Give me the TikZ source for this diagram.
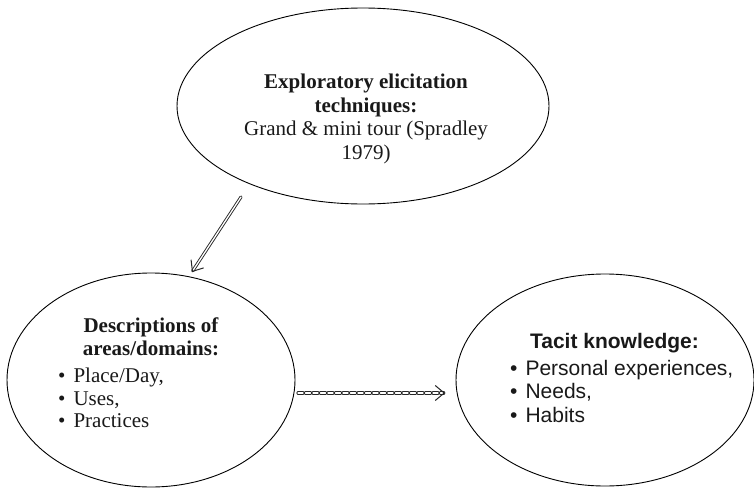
\documentclass[tikz,border=0pt]{standalone}
\usepackage{fontspec}
\setmainfont{Liberation Serif}
\setsansfont{Liberation Sans}
\usetikzlibrary{shapes.geometric}
\usetikzlibrary{arrows.meta}

\begin{document}
\begin{tikzpicture}[line cap=round,line join=round,x=1pt,y=-1pt,
  bubble/.style={draw,ellipse,inner sep=0pt,line width=0.9pt},
  txt/.style={inner sep=0pt,text=black!90,font=\fontsize{21}{23.5}\selectfont},
  link/.style={double,line width=0.9pt,double distance=1.3pt,draw=black!85,-{Straight Barb[length=9pt,width=15pt,line width=1pt]}}]
\useasboundingbox (0,0) rectangle (754,487);
% the three bubbles
\node[bubble,minimum width=372,minimum height=196] (tech) at (363,106) {};
\node[bubble,minimum width=288,minimum height=214] (descr) at (151,380) {};
\node[bubble,minimum width=298,minimum height=212] (tacit) at (605,380) {};
% texts
\node[txt,align=center] (techtxt) at (366,119) {\textbf{Exploratory elicitation}\\\textbf{techniques:}\\Grand \& mini tour (Spradley\\1979)};
\node[txt,align=center,font=\fontsize{21}{23}\selectfont] (descrhead) at (151,337) {\textbf{Descriptions of}\\\textbf{areas/domains:}};
\node[txt,align=left,anchor=west,font=\fontsize{21}{22.5}\selectfont] (descrlist) at (58,398) {\textbullet\hspace{8pt}Place/Day,\\\textbullet\hspace{8pt}Uses,\\\textbullet\hspace{8pt}Practices};
\node[txt,anchor=base,font=\sffamily\bfseries\fontsize{21}{23.5}\selectfont] (tacithead) at (614.5,348) {Tacit knowledge:};
\node[txt,align=left,anchor=west,font=\sffamily\fontsize{21}{23.5}\selectfont] (tacitlist) at (510,391) {\textbullet\hspace{8pt}Personal experiences,\\\textbullet\hspace{8pt}Needs,\\\textbullet\hspace{8pt}Habits};
% connectors
\coordinate (techout) at (241,197);
\coordinate (descrin) at (192,272);
\coordinate (descrout) at (298,393);
\coordinate (tacitin) at (445,393);
\draw[link] (techout) -- (descrin);
\draw[link,dash pattern=on 5pt off 2.5pt] (descrout) -- (tacitin);
\end{tikzpicture}
\end{document}
